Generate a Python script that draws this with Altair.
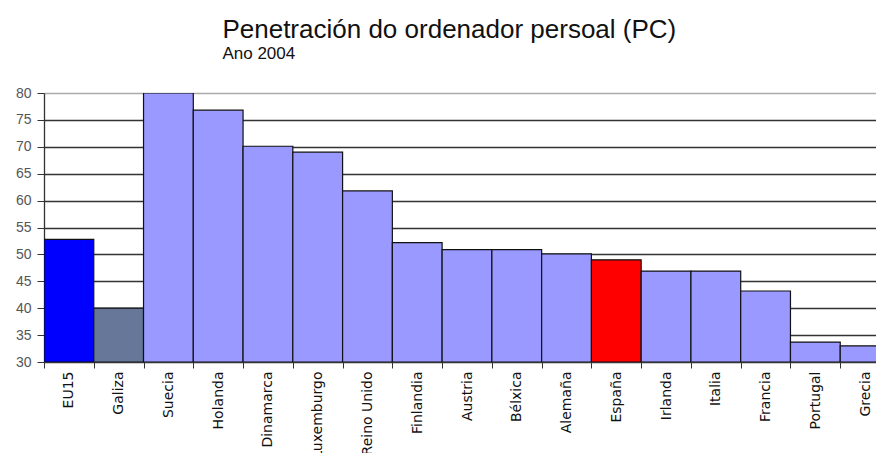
import altair as alt
import pandas as pd

countries = ["EU15", "Galiza", "Suecia", "Holanda", "Dinamarca", "Luxemburgo",
             "Reino Unido", "Finlandia", "Austria", "Bélxica", "Alemaña", "España",
             "Irlanda", "Italia", "Francia", "Portugal", "Grecia"]
values = [52.8, 40.0, 80.0, 76.8, 70.1, 69.0, 61.8, 52.2, 50.9, 50.9, 50.1,
          49.0, 46.9, 46.9, 43.2, 33.7, 33.0]
groups = ["EU15", "Galiza"] + ["Outros"] * 9 + ["España"] + ["Outros"] * 5

group_domain = ["EU15", "Galiza", "España", "Outros"]
group_colors = ["#0000FF", "#667799", "#FF0000", "#9999FF"]

df = pd.DataFrame({"pais": countries, "valor": values, "grupo": groups})

FONT = "Liberation Sans"
LFONT = "DejaVu Sans"

bars = alt.Chart(df).mark_bar(stroke="#111111", strokeWidth=1.2, clip=True).encode(
    x=alt.X("pais:N", sort=countries,
            scale=alt.Scale(paddingInner=0, paddingOuter=0, range=[0, 846]),
            axis=alt.Axis(title=None, labelAngle=-90, labelFont=LFONT, labelFontSize=14,
                          labelColor="#111111", tickBand="extent", tickSize=6,
                          tickColor="#333333", domain=False, labelPadding=3)),
    y=alt.Y("valor:Q", scale=alt.Scale(domain=[30, 80], zero=False, nice=False),
            axis=alt.Axis(title=None, values=list(range(30, 81, 5)), labelFont=FONT,
                          labelFontSize=14, labelColor="#555555", tickSize=7,
                          tickColor="#333333", domainColor="#333333", labelPadding=6,
                          grid=True,
                          gridColor=alt.condition("datum.value == 80",
                                                  alt.value("#aaaaaa"),
                                                  alt.value("#333333")),
                          gridWidth=1.3)),
    y2=alt.datum(30),
    color=alt.Color("grupo:N", scale=alt.Scale(domain=group_domain, range=group_colors),
                    legend=None),
)

chart = bars.properties(
    width=832,
    height=269,
    autosize=alt.AutoSizeParams(type="none"),
    padding={"left": 36, "top": 85, "right": 0, "bottom": 91},
    title=alt.TitleParams(
        text="Penetración do ordenador persoal (PC)",
        subtitle="Ano 2004",
        anchor="start",
        dx=207,
        offset=24,
        font=FONT,
        fontSize=26,
        fontWeight="normal",
        color="#111111",
        subtitleFont=FONT,
        subtitleFontSize=17,
        subtitleColor="#111111",
        subtitlePadding=3,
    ),
).configure_view(stroke=None).configure_axis(domainWidth=1.3)

chart.save("out.html", embed_options={"renderer": "svg", "actions": False})
